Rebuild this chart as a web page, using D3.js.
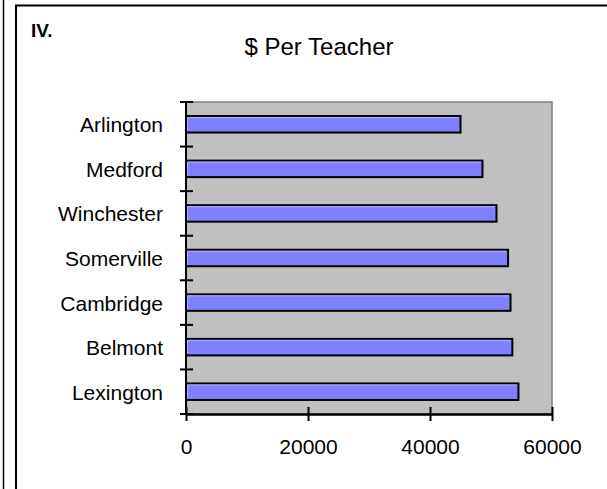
<!DOCTYPE html>
<html>
<head>
<meta charset="utf-8">
<script src="https://cdn.jsdelivr.net/npm/d3@7"></script>
<style>
  body { margin: 0; background: #fff; }
  svg { display: block; }
</style>
</head>
<body>
<div id="vis"></div>
<script>
// data
const towns = ["Arlington", "Medford", "Winchester", "Somerville", "Cambridge", "Belmont", "Lexington"];
const perTeacher = [45000, 48600, 50900, 52800, 53200, 53500, 54500];
const xTicks = [0, 20000, 40000, 60000];

const width = 607;
const height = 489;
const plot = {left: 186, right: 552, top: 102, bottom: 414};
const font = "'Liberation Sans', Arial, sans-serif";

const data = towns.map((t, i) => ({town: t, value: perTeacher[i]}));

const svg = d3.select("#vis")
  .append("svg")
    .attr("width", width)
    .attr("height", height);

svg.append("rect")
  .attr("width", width)
  .attr("height", height)
  .attr("fill", "#fff");

// page frame lines
svg.append("line")
  .attr("x1", 3.5).attr("x2", 3.5)
  .attr("y1", 0).attr("y2", height)
  .attr("stroke", "#000").attr("stroke-width", 1.5);
svg.append("path")
  .attr("d", `M16,${height}V5.5H${width}`)
  .attr("fill", "none")
  .attr("stroke", "#000").attr("stroke-width", 2);

// section number + title
svg.append("text")
  .attr("x", 31)
  .attr("y", 37)
  .attr("font-family", font)
  .attr("font-weight", "bold")
  .attr("font-size", "19px")
  .text("IV.");

svg.append("text")
  .attr("x", 319)
  .attr("y", 55)
  .attr("text-anchor", "middle")
  .attr("font-family", font)
  .attr("font-size", "24px")
  .text("$ Per Teacher");

const x = d3.scaleLinear()
    .domain([0, 60000])
    .range([plot.left, plot.right]);

const y = d3.scaleBand()
    .domain(towns)
    .range([plot.top, plot.bottom])
    .padding(0);

// plot area
svg.append("rect")
  .attr("x", plot.left)
  .attr("y", plot.top)
  .attr("width", plot.right - plot.left)
  .attr("height", plot.bottom - plot.top)
  .attr("fill", "#c0c0c0")
  .attr("stroke", "#808080")
  .attr("stroke-width", 1.5);

// bars
const barH = y.bandwidth() * 0.37;

svg.selectAll(".bar")
  .data(data)
  .enter()
  .append("rect")
    .attr("class", "bar")
    .attr("x", x(0))
    .attr("y", d => y(d.town) + (y.bandwidth() - barH) / 2)
    .attr("width", d => x(d.value) - x(0))
    .attr("height", barH)
    .attr("fill", "#8080ff")
    .attr("stroke", "#000")
    .attr("stroke-width", 2);

// light edge on top/left of each bar
svg.selectAll(".hl")
  .data(data)
  .enter()
  .append("path")
    .attr("class", "hl")
    .attr("d", d => {
      const top = y(d.town) + (y.bandwidth() - barH) / 2 + 1.5;
      return `M${x(0) + 1.5},${top + barH - 3}V${top}H${x(d.value) - 1.5}`;
    })
    .attr("fill", "none")
    .attr("stroke", "#b4b4ff")
    .attr("stroke-width", 1);

// x axis, ticks crossing the line
svg.append("g")
  .attr("transform", `translate(0,${plot.bottom})`)
  .call(d3.axisBottom(x).tickValues(xTicks).tickFormat(d3.format("d"))
    .tickSizeInner(7).tickSizeOuter(0).tickPadding(18));
svg.append("g")
  .attr("transform", `translate(0,${plot.bottom})`)
  .call(d3.axisBottom(x).tickValues(xTicks).tickFormat("")
    .tickSizeInner(-7).tickSizeOuter(0));

// y axis labels
svg.append("g")
  .attr("transform", `translate(${plot.left},0)`)
  .call(d3.axisLeft(y).tickSize(0).tickPadding(23))
  .call(g => g.select(".domain").remove())
  .selectAll("text")
    .attr("dy", "0.38em");

// y axis line with ticks at the band edges
const edges = towns.map(t => y(t)).concat([plot.bottom]);
svg.selectAll(".ytick")
  .data(edges)
  .enter()
  .append("line")
    .attr("class", "ytick")
    .attr("x1", plot.left - 6)
    .attr("x2", plot.left + 7)
    .attr("y1", d => d)
    .attr("y2", d => d)
    .attr("stroke", "#000")
    .attr("stroke-width", 2);
svg.append("line")
  .attr("x1", plot.left).attr("x2", plot.left)
  .attr("y1", plot.top).attr("y2", plot.bottom)
  .attr("stroke", "#000").attr("stroke-width", 2);

svg.selectAll(".tick text")
  .attr("font-family", font)
  .attr("font-size", "21px")
  .attr("fill", "#000");
svg.selectAll(".tick line")
  .attr("stroke", "#000")
  .attr("stroke-width", 2);
svg.selectAll(".domain")
  .attr("stroke", "#000")
  .attr("stroke-width", 2);
</script>
</body>
</html>
